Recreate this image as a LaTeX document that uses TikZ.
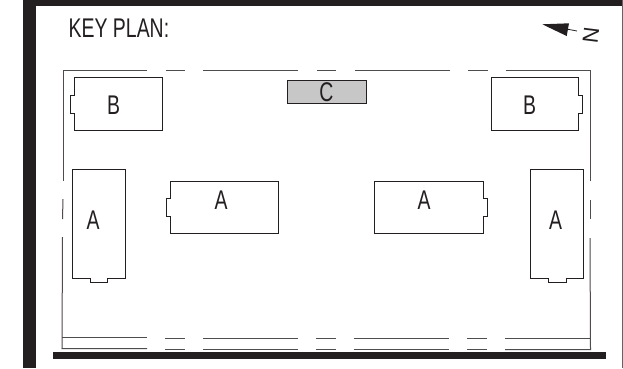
\documentclass[tikz,border=0pt]{standalone}
\usepackage{fontspec}
\setmainfont[FakeStretch=0.72]{Liberation Sans}
\newfontfamily\northfont{Liberation Sans}
\definecolor{ink}{HTML}{231F20}
\tikzset{
 x=1pt,y=-1pt,
 wall/.style={draw=ink!80,line width=1pt},
 bld/.style={draw=ink,line width=0.8pt},
 lab/.style={text=ink,font=\fontsize{27}{27}\selectfont,inner sep=0pt,anchor=base},
 heavy/.style={fill=ink,draw=none},
}
\begin{document}
\begin{tikzpicture}
\useasboundingbox (0,0) rectangle (623,368);
\fill[white] (0,0) rectangle (623,368);
% frame
\fill[heavy] (22.5,0) rectangle (36,368);
\fill[heavy] (22.5,0) rectangle (623,6);
\draw[draw=ink!70,line width=1pt] (622.5,0) -- (622.5,368);
\fill[heavy] (52.5,352) rectangle (605.5,359);
% site outline
\draw[wall] (147,70) -- (63,70) -- (63,181);
\draw[wall] (63,199) -- (62.5,219);
\draw[wall] (62.5,237) -- (62,348.5) -- (147,348.5);
\draw[wall] (62,337.5) -- (147,337.5);
\draw[wall] (590,181) -- (590,70) -- (506,70);
\draw[wall] (590,200) -- (590,219);
\draw[wall] (590,238) -- (590.5,349.5) -- (505,349.5);
\draw[wall] (590.5,338.5) -- (505,338.5);
\foreach \a/\b in {166/185,203/298,317/336,355/450,468/488}{\draw[wall] (\a,70) -- (\b,70);}
\foreach \a/\b in {165/185,203/298,316/336,354/449,467/487}{
 \draw[wall] (\a,338) -- (\b,338);
 \draw[wall] (\a,349) -- (\b,349);}
% buildings
\draw[bld] (74.7,77.5) -- (162,77.5) -- (162,130.5) -- (74.7,130.5) -- (74.7,113) -- (70.5,113) -- (70.5,95) -- (74.7,95) -- cycle;
\draw[bld] (491.3,77.5) -- (578.3,77.5) -- (578.3,95) -- (582.7,95) -- (582.7,113) -- (578.3,113) -- (578.3,130.5) -- (491.3,130.5) -- cycle;
\draw[bld,fill=black!22] (287,80) rectangle (366,103.5);
\draw[bld] (72.5,169.5) -- (125.5,169.5) -- (125.5,278.3) -- (107.5,278.3) -- (107.5,282.3) -- (90,282.3) -- (90,278.3) -- (72.5,278.3) -- cycle;
\draw[bld] (530.3,169.5) -- (583.7,169.5) -- (583.7,278.3) -- (566.3,278.3) -- (566.3,282.3) -- (548.3,282.3) -- (548.3,278.3) -- (530.3,278.3) -- cycle;
\draw[bld] (170,181) -- (278.7,181) -- (278.7,233.7) -- (170,233.7) -- (170,216) -- (166,216) -- (166,198) -- (170,198) -- cycle;
\draw[bld] (374.3,181) -- (483.3,181) -- (483.3,198) -- (487.5,198) -- (487.5,216) -- (483.3,216) -- (483.3,233.7) -- (374.3,233.7) -- cycle;
% north arrow
\fill[ink] (542.3,24.3) -- (569,23.3) -- (566.7,36) -- cycle;
\draw[ink,line width=0.8pt] (568,29.3) -- (577,31);
% labels
\node[lab,anchor=base west] (title) at (68.5,37) {KEY PLAN:};
\node[lab] (lb1) at (113.5,114) {B};
\node[lab] (lb2) at (529.5,114) {B};
\node[lab] (lc) at (326.5,101) {C};
\node[lab] (la1) at (93,229) {A};
\node[lab] (la2) at (221,209) {A};
\node[lab] (la3) at (424,209) {A};
\node[lab] (la4) at (555.5,229) {A};
\node[text=ink,font=\northfont\fontsize{22}{22}\selectfont,inner sep=0pt,rotate=-97] (north) at (591,35) {N};
\end{tikzpicture}
\end{document}
